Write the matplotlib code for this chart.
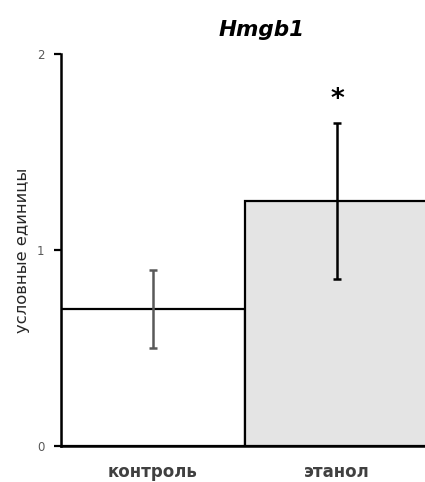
import matplotlib
matplotlib.use("Agg")
import matplotlib.pyplot as plt

categories = ["контроль", "этанол"]
values = [0.70, 1.25]
errors = [0.20, 0.40]
y_ticks = [0, 1, 2]

fig = plt.figure(figsize=(4.25, 4.82), dpi=100)
ax = fig.add_axes([0.1435, 0.0747, 0.866, 0.8133])

x = range(len(categories))
ax.bar(x, values, width=1.0, color=["white", "#e4e4e4"], edgecolor="black", linewidth=1.6)
ax.errorbar(0, values[0], yerr=errors[0], fmt="none", ecolor="#595959", elinewidth=1.8, capsize=2.8, capthick=1.8)
ax.errorbar(1, values[1], yerr=errors[1], fmt="none", ecolor="black", elinewidth=1.8, capsize=2.8, capthick=1.8)
ax.text(1, values[1] + errors[1] + 0.05, "*", ha="center", va="bottom", fontsize=19, fontweight="bold")

ax.set_xlim(-0.5, 1.5)
ax.set_ylim(0, 2)
ax.set_yticks(y_ticks)
ax.set_yticklabels([str(t) for t in y_ticks], color="#595959", fontsize=8.5)
ax.set_xticks(list(x))
ax.set_xticklabels(categories, fontsize=12, fontweight="bold", color="#404040")
ax.tick_params(axis="x", length=0, pad=12)
ax.tick_params(axis="y", length=5, width=1.6, direction="out", pad=7)
ax.set_ylabel("условные единицы", fontsize=11.8, color="#262626", labelpad=5)

for side in ["top", "right"]:
    ax.spines[side].set_visible(False)
for side in ["left", "bottom"]:
    ax.spines[side].set_linewidth(1.8)

fig.text(0.615, 0.937, "Hmgb1", ha="center", va="center", fontsize=15.5, fontweight="bold", style="italic")

fig.savefig("out.png", dpi=100)
